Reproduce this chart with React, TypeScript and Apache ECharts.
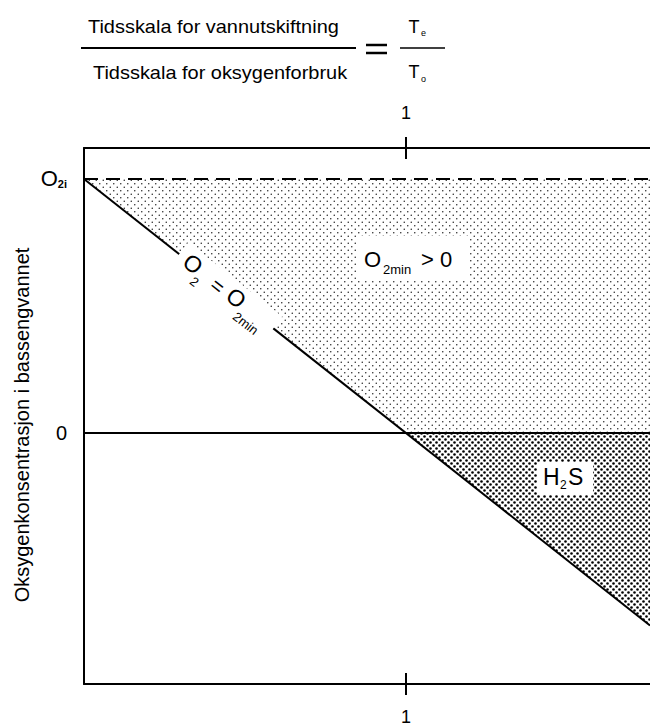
import React, { useEffect, useRef } from 'react';
import * as echarts from 'echarts';

// ---- data ----
const xTickValues = [1];
const xTickLabels = ['1'];
const yTickValues = [0, 1];
const yTickLabels = ['0', 'O2i'];
const xRange = [0, 1.758];
const yRange = [-0.988, 1.122];
const o2LineX = [0, 1.758];
const o2LineY = [1, -0.758];
const o2iLevel = [1, 1];
const zeroLevel = [0, 0];
const crossX = 1;
const yAxisTitle = 'Oksygenkonsentrasjon i bassengvannet';
const titleTop = 'Tidsskala for vannutskiftning';
const titleBottom = 'Tidsskala for oksygenforbruk';

const FONT = '"Liberation Sans", Arial, Helvetica, sans-serif';

function makePattern(size: number, r: number, color: string) {
  const c = document.createElement('canvas');
  c.width = size;
  c.height = size;
  const ctx = c.getContext('2d')!;
  ctx.fillStyle = color;
  const pts = [
    [size * 0.25, size * 0.25],
    [size * 0.75, size * 0.75],
  ];
  pts.forEach(([x, y]) => {
    ctx.beginPath();
    ctx.arc(x, y, r, 0, Math.PI * 2);
    ctx.fill();
  });
  return { image: c, repeat: 'repeat', imageWidth: size, imageHeight: size } as any;
}

export default function App() {
  const ref = useRef<HTMLDivElement>(null);
  useEffect(() => {
    if (!ref.current) return;
    document.body.style.margin = '0';
    const chart = echarts.init(ref.current, null, { renderer: 'svg' });
    const lightPat = makePattern(7, 0.75, '#222');
    const darkPat = makePattern(6, 1.3, '#000');

    const regions = [
      [
        [o2LineX[0], o2iLevel[0]],
        [o2LineX[1], o2iLevel[1]],
        [o2LineX[1], zeroLevel[1]],
        [crossX, zeroLevel[0]],
      ],
      [
        [crossX, zeroLevel[0]],
        [o2LineX[1], zeroLevel[1]],
        [o2LineX[1], o2LineY[1]],
      ],
    ];
    const fills = [lightPat, darkPat];

    const baseX = {
      type: 'value',
      min: xRange[0],
      max: xRange[1],
      splitLine: { show: false },
    };

    const option: any = {
      animation: false,
      grid: [
        { left: 84, right: 0, top: 148, bottom: 42 },
        { left: 84, right: 0, top: 148, bottom: 42 },
      ],
      xAxis: [
        {
          ...baseX,
          gridIndex: 0,
          position: 'bottom',
          axisLine: { show: true, onZero: false, lineStyle: { color: '#000', width: 2 } },
          axisTick: { show: true, customValues: xTickValues, length: 11, lineStyle: { color: '#000', width: 2 } },
          axisLabel: {
            customValues: xTickValues,
            formatter: (v: number) => xTickLabels[xTickValues.indexOf(v)] ?? '',
            margin: 24,
            fontSize: 18,
            color: '#000',
            fontFamily: FONT,
          },
        },
        {
          ...baseX,
          gridIndex: 0,
          position: 'top',
          axisLine: { show: true, onZero: false, lineStyle: { color: '#000', width: 2 } },
          axisTick: { show: true, customValues: xTickValues, length: 11, lineStyle: { color: '#000', width: 2 } },
          axisLabel: {
            customValues: xTickValues,
            formatter: (v: number) => xTickLabels[xTickValues.indexOf(v)] ?? '',
            margin: 26,
            fontSize: 18,
            color: '#000',
            fontFamily: FONT,
          },
        },
        {
          ...baseX,
          gridIndex: 1,
          position: 'bottom',
          axisLine: { show: false, onZero: false },
          axisTick: { show: true, inside: true, customValues: xTickValues, length: 11, lineStyle: { color: '#000', width: 2 } },
          axisLabel: { show: false },
        },
        {
          ...baseX,
          gridIndex: 1,
          position: 'top',
          axisLine: { show: false, onZero: false },
          axisTick: { show: true, inside: true, customValues: xTickValues, length: 11, lineStyle: { color: '#000', width: 2 } },
          axisLabel: { show: false },
        },
      ],
      yAxis: [
        {
          type: 'value',
          gridIndex: 0,
          min: yRange[0],
          max: yRange[1],
          splitLine: { show: false },
          axisLine: { show: true, onZero: false, lineStyle: { color: '#000', width: 2 } },
          axisTick: { show: false },
          axisLabel: {
            customValues: yTickValues,
            margin: 17,
            formatter: (v: number) => {
              const t = yTickLabels[yTickValues.indexOf(v)] ?? '';
              if (t.startsWith('O')) return '{o|O}{s|' + t.slice(1) + '}';
              return '{z|' + t + '}';
            },
            rich: {
              o: { fontSize: 22, color: '#000', fontFamily: FONT, lineHeight: 26, verticalAlign: 'middle' },
              s: { fontSize: 11, color: '#000', fontFamily: FONT, fontWeight: 'bold', lineHeight: 26, verticalAlign: 'bottom', padding: [0, 0, 2, 0] },
              z: { fontSize: 20, color: '#000', fontFamily: FONT, lineHeight: 26, verticalAlign: 'middle' },
            },
          },
        },
        {
          type: 'value',
          gridIndex: 1,
          min: yRange[0],
          max: yRange[1],
          show: false,
        },
      ],
      series: [
        {
          type: 'custom',
          xAxisIndex: 0,
          yAxisIndex: 0,
          data: regions.map((_, i) => [crossX, 0, i]),
          renderItem: (params: any, api: any) => {
            const poly = regions[params.dataIndex];
            const points = poly.map((p) => api.coord(p));
            return {
              type: 'polygon',
              shape: { points },
              style: { fill: fills[params.dataIndex], stroke: 'none' },
            };
          },
          silent: true,
          z: 1,
        },
        {
          type: 'line',
          xAxisIndex: 0,
          yAxisIndex: 0,
          data: o2LineX.map((x, i) => [x, o2iLevel[i]]),
          symbol: 'none',
          lineStyle: { color: '#000', width: 2, type: [14, 8] },
          z: 3,
        },
        {
          type: 'line',
          xAxisIndex: 0,
          yAxisIndex: 0,
          data: o2LineX.map((x, i) => [x, zeroLevel[i]]),
          symbol: 'none',
          lineStyle: { color: '#000', width: 2 },
          z: 3,
        },
        {
          type: 'line',
          xAxisIndex: 0,
          yAxisIndex: 0,
          data: o2LineX.map((x, i) => [x, o2LineY[i]]),
          symbol: 'none',
          lineStyle: { color: '#000', width: 2 },
          z: 3,
        },
      ],
      graphic: [
        // y axis title
        { type: 'text', z: 100, x: 22, y: 425, rotation: Math.PI / 2, style: { text: yAxisTitle, fontSize: 20, fontFamily: FONT, fill: '#000', align: 'center', verticalAlign: 'middle' } },
        // title fraction
        { type: 'text', z: 100, x: 88, y: 26, scaleX: 1.05, style: { text: titleTop, fontSize: 19, fontFamily: FONT, fill: '#000', verticalAlign: 'middle' } },
        { type: 'line', z: 100, shape: { x1: 81, y1: 48, x2: 356, y2: 48 }, style: { stroke: '#000', lineWidth: 2 } },
        { type: 'text', z: 100, x: 93, y: 72, scaleX: 1.05, style: { text: titleBottom, fontSize: 19, fontFamily: FONT, fill: '#000', verticalAlign: 'middle' } },
        { type: 'line', z: 100, shape: { x1: 366, y1: 45, x2: 387, y2: 45 }, style: { stroke: '#000', lineWidth: 2.5 } },
        { type: 'line', z: 100, shape: { x1: 366, y1: 53, x2: 387, y2: 53 }, style: { stroke: '#000', lineWidth: 2.5 } },
        { type: 'text', z: 100, x: 414, y: 27, style: { text: 'T', fontSize: 18, fontFamily: FONT, fill: '#000', align: 'center', verticalAlign: 'middle' } },
        { type: 'text', z: 100, x: 421, y: 33, style: { text: 'e', fontSize: 9, fontFamily: FONT, fill: '#000', verticalAlign: 'middle' } },
        { type: 'line', z: 100, shape: { x1: 400, y1: 48, x2: 445, y2: 48 }, style: { stroke: '#000', lineWidth: 1.5 } },
        { type: 'text', z: 100, x: 414, y: 72, style: { text: 'T', fontSize: 18, fontFamily: FONT, fill: '#000', align: 'center', verticalAlign: 'middle' } },
        { type: 'text', z: 100, x: 421, y: 79, style: { text: 'o', fontSize: 9, fontFamily: FONT, fill: '#000', verticalAlign: 'middle' } },
        // O2min > 0
        {
          type: 'group', z: 100,
          children: [
            { type: 'rect', z: 100, shape: { x: 356, y: 236, width: 114, height: 43 }, style: { fill: '#fff' } },
            { type: 'text', z: 101, x: 364, y: 259, style: { text: 'O', fontSize: 22, fontFamily: FONT, fill: '#000', verticalAlign: 'middle' } },
            { type: 'text', z: 101, x: 383, y: 269, style: { text: '2min', fontSize: 13, fontFamily: FONT, fill: '#000', verticalAlign: 'middle' } },
            { type: 'text', z: 101, x: 421, y: 259, style: { text: '> 0', fontSize: 22, fontFamily: FONT, fill: '#000', verticalAlign: 'middle' } },
          ],
        },
        // H2S
        {
          type: 'group', z: 100,
          children: [
            { type: 'rect', z: 100, shape: { x: 537, y: 462, width: 56, height: 33 }, style: { fill: '#fff' } },
            { type: 'text', z: 101, x: 543, y: 477, style: { text: 'H', fontSize: 23, fontFamily: FONT, fill: '#000', verticalAlign: 'middle' } },
            { type: 'text', z: 101, x: 560, y: 485, style: { text: '2', fontSize: 12, fontFamily: FONT, fill: '#000', verticalAlign: 'middle' } },
            { type: 'text', z: 101, x: 568, y: 477, style: { text: 'S', fontSize: 23, fontFamily: FONT, fill: '#000', verticalAlign: 'middle' } },
          ],
        },
        // O2 = O2min along the line
        {
          type: 'group', z: 100, x: 193, y: 264, rotation: -0.668,
          children: [
            { type: 'rect', z: 100, shape: { x: -17, y: -14, width: 120, height: 38 }, style: { fill: '#fff' } },
            { type: 'text', z: 101, x: 0, y: 0, style: { text: 'O', fontSize: 23, fontFamily: FONT, fill: '#000', align: 'center', verticalAlign: 'middle' } },
            { type: 'text', z: 101, x: 12, y: 13, style: { text: '2', fontSize: 13, fontFamily: FONT, fill: '#000', align: 'center', verticalAlign: 'middle' } },
            { type: 'text', z: 101, x: 33, y: 2, style: { text: '=', fontSize: 21, fontFamily: FONT, fill: '#000', align: 'center', verticalAlign: 'middle' } },
            { type: 'text', z: 101, x: 55, y: 0, style: { text: 'O', fontSize: 23, fontFamily: FONT, fill: '#000', align: 'center', verticalAlign: 'middle' } },
            { type: 'text', z: 101, x: 64, y: 14, style: { text: '2min', fontSize: 13, fontFamily: FONT, fill: '#000', verticalAlign: 'middle' } },
          ],
        },
      ],
    };
    chart.setOption(option);
    return () => chart.dispose();
  }, []);
  return <div ref={ref} style={{ width: 650, height: 726 }} />;
}
